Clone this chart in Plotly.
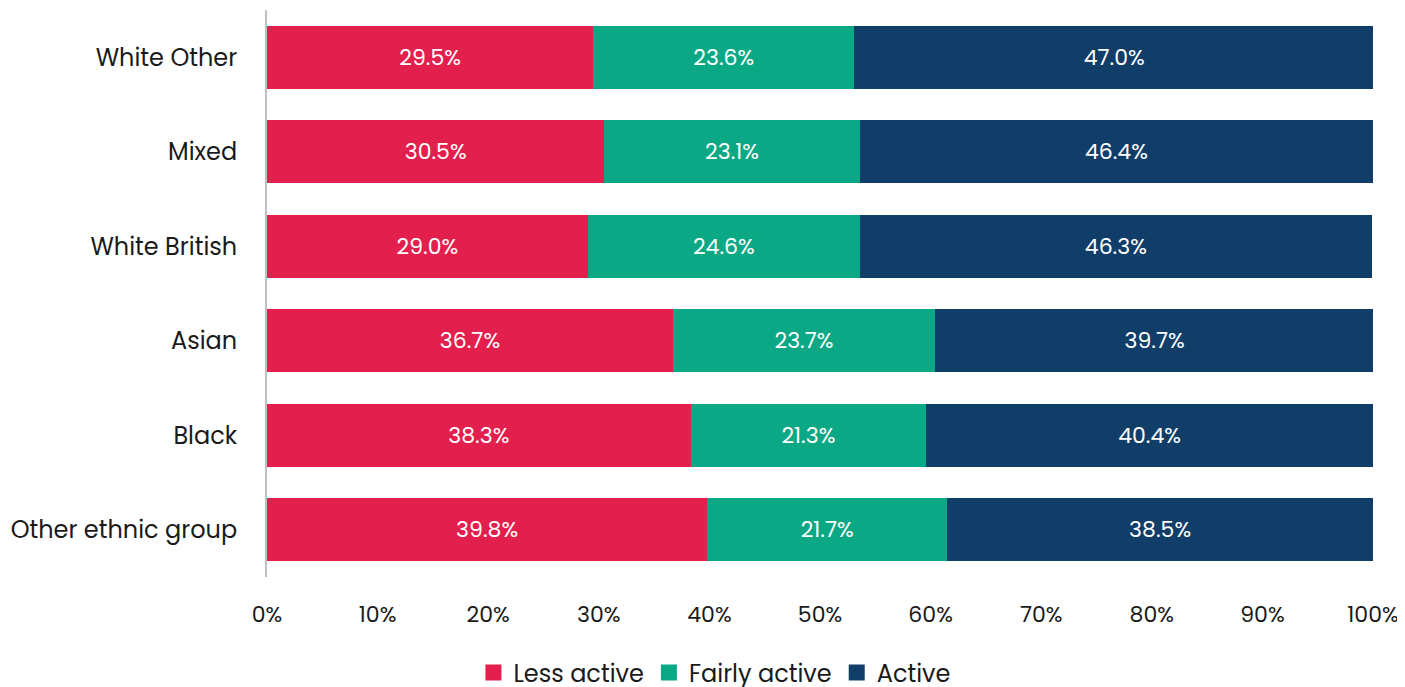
import plotly.graph_objects as go

categories = ["White Other", "Mixed", "White British", "Asian", "Black", "Other ethnic group"]
less_active = [29.5, 30.5, 29.0, 36.7, 38.3, 39.8]
fairly_active = [23.6, 23.1, 24.6, 23.7, 21.3, 21.7]
active = [47.0, 46.4, 46.3, 39.7, 40.4, 38.5]
series_names = ["Less active", "Fairly active", "Active"]
colors = ["#E3204D", "#0AA884", "#103E68"]
tick_vals = [0, 10, 20, 30, 40, 50, 60, 70, 80, 90, 100]
tick_text = ["0%", "10%", "20%", "30%", "40%", "50%", "60%", "70%", "80%", "90%", "100%"]

FONT = "Poppins, Inter, Lato, sans-serif"

fig = go.Figure()
for name, vals, col in zip(series_names, [less_active, fairly_active, active], colors):
    fig.add_trace(go.Bar(
        y=categories, x=vals, name=name, orientation="h",
        marker=dict(color=col, line=dict(width=0)),
        texttemplate="%{x:.1f}%", textposition="inside", insidetextanchor="middle",
        textfont=dict(color="white", size=22, family=FONT),
        constraintext="none", showlegend=False,
    ))
# legend entries with larger square swatches
for name, col in zip(series_names, colors):
    fig.add_trace(go.Scatter(
        x=[None], y=[None], mode="markers", name=name,
        marker=dict(symbol="square", size=19, color=col),
        showlegend=True,
    ))

fig.update_layout(
    barmode="stack",
    bargap=0.333,
    width=1397, height=695,
    margin=dict(l=259, r=32, t=2, b=126, autoexpand=False),
    paper_bgcolor="white", plot_bgcolor="white",
    font=dict(family=FONT, color="#1a1a1a", size=22),
    showlegend=True,
    legend=dict(orientation="h", x=0.405, xanchor="center", y=-0.169, yanchor="middle",
                font=dict(size=24, family=FONT), traceorder="normal",
                itemwidth=30, itemsizing="trace"),
)
fig.update_xaxes(range=[0, 100], tickvals=tick_vals, ticktext=tick_text,
                 showgrid=False, zeroline=False, showline=False, ticks="",
                 tickfont=dict(size=22), ticklabelstandoff=22)
fig.update_yaxes(autorange="reversed", showgrid=False, zeroline=False,
                 showline=True, linecolor="#BFBFBF", linewidth=2, ticks="",
                 ticklabelstandoff=23, tickfont=dict(size=24))

fig.write_html("out.html")
